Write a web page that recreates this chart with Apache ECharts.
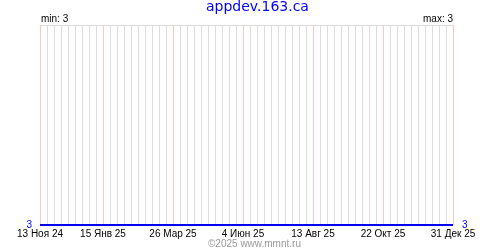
<!DOCTYPE html>
<html>
<head>
<meta charset="utf-8">
<script src="https://cdn.jsdelivr.net/npm/echarts@6/dist/echarts.min.js"></script>
<style>html,body{margin:0;padding:0;background:#fff}#c{width:500px;height:250px}</style>
</head>
<body>
<div id="c"></div>
<script>
var chartTitle = 'appdev.163.ca';
var footerText = '©2025 www.mmnt.ru';
var startDate = '2024-11-13';
var endDate = '2025-12-31';
var labelDates = ['2024-11-13','2025-01-15','2025-03-26','2025-06-04','2025-08-13','2025-10-22','2025-12-31'];
var labelTexts = ['13 Ноя 24','15 Янв 25','26 Мар 25','4 Июн 25','13 Авг 25','22 Окт 25','31 Дек 25'];
var seriesDates = ['2024-11-13','2025-12-31'];
var seriesValues = [3, 3];
var minValue = 3;
var maxValue = 3;

function dayIndex(s){
  return Math.round((Date.parse(s + 'T00:00:00Z') - Date.parse(startDate + 'T00:00:00Z')) / 86400000);
}
var weekDays = 7;
var totalDays = dayIndex(endDate);
var labelDays = labelDates.map(dayIndex);
var seriesData = seriesDates.map(function(d, i){ return [dayIndex(d), seriesValues[i]]; });

// weekly vertical grid lines; flag 1 where a date label sits (drawn pink)
var gridLines = [];
for (var d = 0; d <= totalDays; d += weekDays) {
  gridLines.push([d, minValue, labelDays.indexOf(d) >= 0 ? 1 : 0]);
}
// draw grey first, pink last so pink is on top
gridLines.sort(function(a, b){ return a[2] - b[2]; });

var font = 'Liberation Sans';
var chart = echarts.init(document.getElementById('c'), null, {renderer: 'canvas'});
chart.setOption({
  animation: false,
  backgroundColor: '#fff',
  textStyle: {fontFamily: font},
  title: [
    {text: chartTitle, left: 206, top: 0, padding: 0,
     textStyle: {color: '#0000ff', fontSize: 14, fontWeight: 'normal', fontFamily: 'DejaVu Sans'}},
    {text: 'min: ' + minValue, left: 41, top: 14, padding: 0,
     textStyle: {color: '#000', fontSize: 10, fontWeight: 'normal', fontFamily: font}},
    {text: 'max: ' + maxValue, right: 47, top: 14, padding: 0,
     textStyle: {color: '#000', fontSize: 10, fontWeight: 'normal', fontFamily: font}},
    {text: footerText, left: 208, top: 239, padding: 0,
     textStyle: {color: '#999', fontSize: 10, fontWeight: 'normal', fontFamily: font}}
  ],
  grid: {left: 40, right: 47, top: 25, bottom: 25, containLabel: false},
  xAxis: {
    type: 'value', min: 0, max: totalDays, interval: weekDays,
    axisLine: {show: false}, axisTick: {show: false},
    splitLine: {show: false},
    axisLabel: {
      show: true, margin: 4, color: '#000', fontSize: 10, fontFamily: font,
      showMinLabel: true, showMaxLabel: true, hideOverlap: false,
      formatter: function(v){ var i = labelDays.indexOf(Math.round(v)); return i >= 0 ? labelTexts[i] : ''; }
    }
  },
  yAxis: [
    {type: 'value', position: 'left', min: minValue, max: minValue + 1, interval: 1,
     axisLine: {show: false}, axisTick: {show: false},
     splitLine: {show: true, lineStyle: {color: '#dddddd', width: 1}},
     axisLabel: {margin: 8, color: '#0000ff', fontSize: 10, fontFamily: font,
       formatter: function(v){ return v === minValue ? String(v) : ''; }}},
    {type: 'value', position: 'right', min: minValue, max: minValue + 1, interval: 1,
     axisLine: {show: false}, axisTick: {show: false}, splitLine: {show: false},
     axisLabel: {margin: 9, color: '#0000ff', fontSize: 10, fontFamily: font,
       formatter: function(v){ return v === maxValue ? String(v) : ''; }}}
  ],
  series: [{
    type: 'custom', silent: true, clip: false, z: 3,
    data: gridLines,
    renderItem: function(params, api){
      var x = Math.round(api.coord([api.value(0), api.value(1)])[0]) + 0.5;
      var cs = params.coordSys;
      var isLabel = api.value(2) === 1;
      return {type: 'line', z2: isLabel ? 2 : 1,
              shape: {x1: x, y1: cs.y, x2: x, y2: cs.y + cs.height},
              style: {stroke: isLabel ? '#ffc4c4' : '#dddddd', lineWidth: 1}};
    }
  }, {
    type: 'line', data: seriesData, showSymbol: false, symbol: 'none',
    z: 12, lineStyle: {color: '#0000ee', width: 2}
  }]
});
</script>
</body>
</html>
